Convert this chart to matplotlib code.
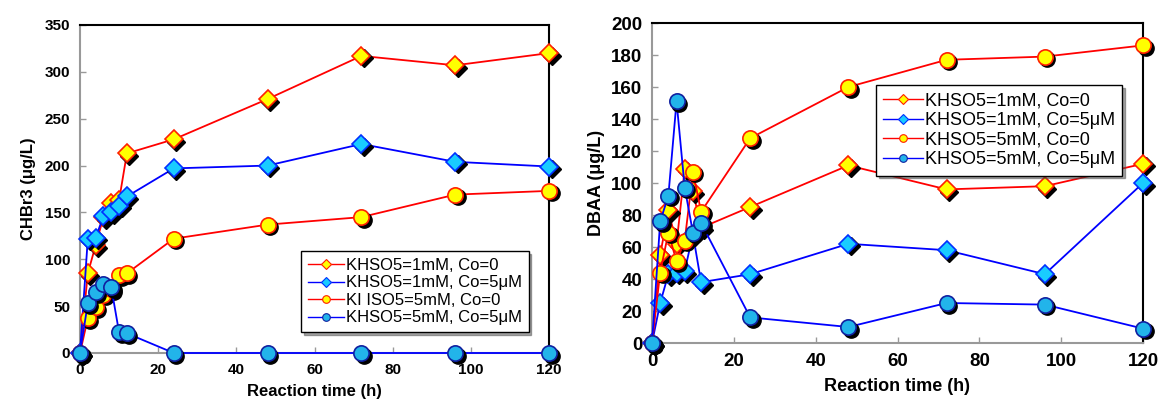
import matplotlib
matplotlib.use("Agg")
import matplotlib.pyplot as plt
from matplotlib.lines import Line2D
from matplotlib.transforms import offset_copy

# ---- data ----
time_h = [0, 2, 4, 6, 8, 10, 12, 24, 48, 72, 96, 120]

labels = ["KHSO5=1mM, Co=0", "KHSO5=1mM, Co=5μM",
          "KHSO5=5mM, Co=0", "KHSO5=5mM, Co=5μM"]
legend_labels_left = ["KHSO5=1mM, Co=0", "KHSO5=1mM, Co=5μM",
                      "KI ISO5=5mM, Co=0", "KHSO5=5mM, Co=5μM"]

chbr3_1mM_co0 = [0, 85, 115, 145, 160, 163, 213, 228, 271, 317, 307, 320]
chbr3_1mM_co5 = [0, 122, 123, 146, 150, 157, 167, 197, 200, 223, 204, 199]
chbr3_5mM_co0 = [0, 37, 49, 62, 68, 83, 85, 122, 137, 145, 169, 173]
chbr3_5mM_co5 = [0, 53, 65, 74, 70, 22, 21, 0, 0, 0, 0, 0]

dbaa_1mM_co0 = [0, 55, 83, 62, 109, 95, 72, 85, 111, 96, 98, 112]
dbaa_1mM_co5 = [0, 25, 43, 44, 45, 68, 38, 43, 62, 58, 43, 100]
dbaa_5mM_co0 = [0, 44, 69, 51, 64, 107, 82, 128, 160, 177, 179, 186]
dbaa_5mM_co5 = [0, 76, 92, 151, 97, 69, 75, 16, 10, 25, 24, 9]

# ---- styles ----
styles = [
    dict(color="#FF0000", marker="D", mfc="#FFFF00", mec="#FF2000", ms=9.5),
    dict(color="#0000FF", marker="D", mfc="#19CCFF", mec="#0030FF", ms=9.5),
    dict(color="#FF0000", marker="o", mfc="#FFFF00", mec="#FF2000", ms=11),
    dict(color="#0000FF", marker="o", mfc="#22B4EA", mec="#1020A0", ms=11),
]

plt.rcParams["font.family"] = ["Liberation Sans", "DejaVu Sans"]

fig = plt.figure(figsize=(11.58, 4.03), dpi=100)
ax1 = fig.add_axes([80 / 1158, 50 / 403, 469 / 1158, 328 / 403])
ax2 = fig.add_axes([652 / 1158, 60 / 403, 491 / 1158, 320 / 403])


def draw(ax, series, ylim, yticks, tick_fs):
    shadow_tr = offset_copy(ax.transData, fig=fig, x=2.5, y=-2.5, units="dots")
    for k, (vals, st) in enumerate(zip(series, styles)):
        z = 2 + k * 3
        ax.plot(time_h, vals, color=st["color"], lw=1.3, zorder=z, clip_on=False)
        ax.plot(time_h, vals, ls="none", marker=st["marker"], ms=st["ms"],
                mfc="black", mec="black", transform=shadow_tr, zorder=z + 1,
                clip_on=False)
        ax.plot(time_h, vals, ls="none", marker=st["marker"], ms=st["ms"],
                mfc=st["mfc"], mec=st["mec"], mew=1.2, zorder=z + 2,
                clip_on=False)
    ax.set_xlim(0, 120)
    ax.set_ylim(*ylim)
    ax.set_xticks(range(0, 121, 20))
    ax.set_yticks(yticks)
    for side in ("left", "bottom"):
        ax.spines[side].set_color("#999999")
        ax.spines[side].set_linewidth(1.5)
    for side in ("top", "right"):
        ax.spines[side].set_color("black")
        ax.spines[side].set_linewidth(1.5)
    ax.tick_params(direction="in", length=4, width=1, color="#999999",
                   labelsize=tick_fs, pad=7)
    for t in ax.get_xticklabels() + ax.get_yticklabels():
        t.set_fontweight("bold")


draw(ax1, [chbr3_1mM_co0, chbr3_1mM_co5, chbr3_5mM_co0, chbr3_5mM_co5],
     (0, 350), range(0, 351, 50), 11)
draw(ax2, [dbaa_1mM_co0, dbaa_1mM_co5, dbaa_5mM_co0, dbaa_5mM_co5],
     (0, 200), range(0, 201, 20), 13.5)

ax1.set_xlabel("Reaction time (h)", fontsize=12, fontweight="bold", labelpad=5)
ax1.set_ylabel("CHBr3 (μg/L)", fontsize=12, fontweight="bold", labelpad=6)
ax2.set_xlabel("Reaction time (h)", fontsize=13, fontweight="bold", labelpad=6)
ax2.set_ylabel("DBAA (μg/L)", fontsize=13, fontweight="bold", labelpad=4)


def legend_handles():
    hs = []
    for st in styles:
        hs.append(Line2D([], [], color=st["color"], lw=1, marker=st["marker"],
                         ms=5.5 if st["marker"] == "o" else 5,
                         mfc=st["mfc"], mec=st["mec"], mew=0.8))
    return hs


for ax, labs, anchor, loc, fs in [
    (ax1, legend_labels_left, (0.471, 0.064), "lower left", 12),
    (ax2, labels, (0.456, 0.806), "upper left", 13),
]:
    leg = ax.legend(legend_handles(), labs, loc=loc, bbox_to_anchor=anchor,
                    fontsize=fs, frameon=True, fancybox=False, shadow=True,
                    handlelength=2.2, handletextpad=0.1, labelspacing=0.15,
                    borderpad=0.4, borderaxespad=0)
    leg.get_frame().set_edgecolor("black")
    leg.get_frame().set_linewidth(1.0)
    leg.set_zorder(20)

fig.savefig("out.png", dpi=100)
